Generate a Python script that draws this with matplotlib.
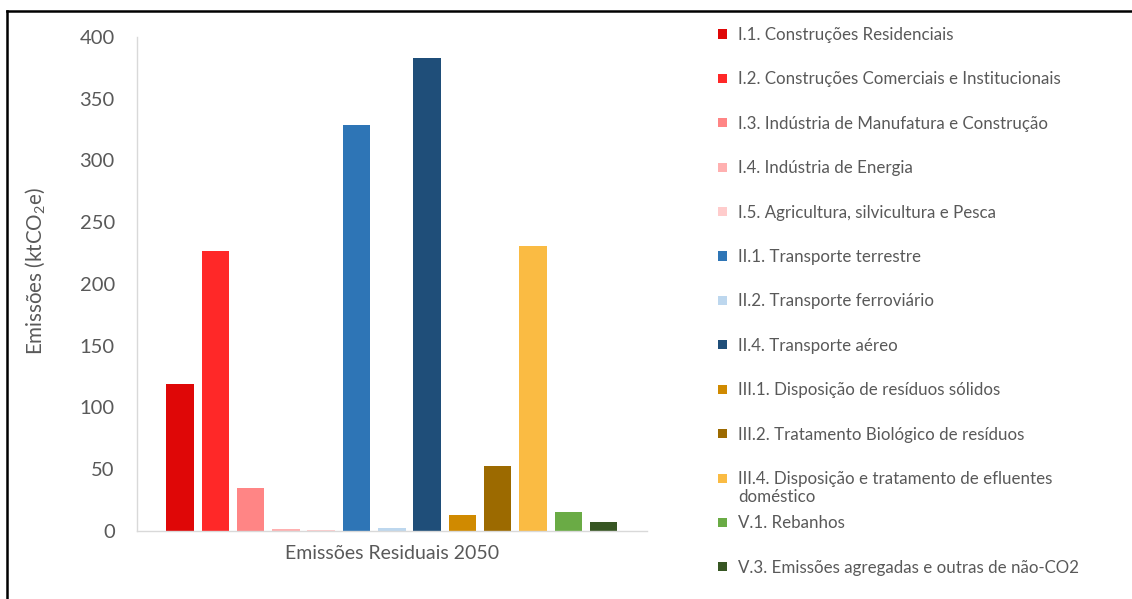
import matplotlib
matplotlib.use("Agg")
import matplotlib.pyplot as plt
from matplotlib.patches import Rectangle
from matplotlib.lines import Line2D

plt.rcParams['font.family'] = ['Lato', 'DejaVu Sans']
plt.rcParams['mathtext.default'] = 'regular'

# data
categories = [
    "I.1. Construções Residenciais",
    "I.2. Construções Comerciais e Institucionais",
    "I.3. Indústria de Manufatura e Construção",
    "I.4. Indústria de Energia",
    "I.5. Agricultura, silvicultura e Pesca",
    "II.1. Transporte terrestre",
    "II.2. Transporte ferroviário",
    "II.4. Transporte aéreo",
    "III.1. Disposição de resíduos sólidos",
    "III.2. Tratamento Biológico de resíduos",
    "III.4. Disposição e tratamento de efluentes\ndoméstico",
    "V.1. Rebanhos",
    "V.3. Emissões agregadas e outras de não-CO2",
]
values = [119, 227, 35, 1.5, 1, 329, 2.5, 383, 13, 52.5, 231, 15, 7.5]
colors = ["#DF0707", "#FF2828", "#FF8585", "#FFB0B0", "#FFCCCC",
          "#2E75B6", "#BDD7EE", "#1F4E79", "#D08A00", "#9C6A00",
          "#FABB43", "#6AAB45", "#375623"]
yticks = [0, 50, 100, 150, 200, 250, 300, 350, 400]
group_label = "Emissões Residuais 2050"

W, H = 1132, 599
text_color = "#595959"
axis_color = "#D9D9D9"

fig = plt.figure(figsize=(W / 100, H / 100), dpi=100)
ax = fig.add_axes([137 / W, 1 - 531 / H, 510 / W, 494 / H])

x = list(range(len(values)))
ax.bar(x, values, width=0.78, color=colors, zorder=2)

ax.set_ylim(0, 400)
ax.set_xlim(-1.22, len(values) - 1 + 1.23)
ax.set_yticks(yticks)
ax.set_xticks([(len(values) - 1) / 2])
ax.set_xticklabels([group_label])
ax.tick_params(axis='both', length=0, colors=text_color, labelsize=14.5)
ax.tick_params(axis='y', pad=16)
ax.tick_params(axis='x', pad=10)
for lab in ax.get_xticklabels():
    lab.set_fontsize(14)

for s in ['top', 'right']:
    ax.spines[s].set_visible(False)
for s in ['left', 'bottom']:
    ax.spines[s].set_color(axis_color)
    ax.spines[s].set_linewidth(1)

fig.text(35 / W, 1 - 271 / H, "Emissões (ktCO$_2$e)", rotation=90,
         ha='center', va='center', color=text_color, fontsize=14.8)

# legend on the right, fixed slots like the original
y0, step = 34, 44.4
for i, (lab, c) in enumerate(zip(categories, colors)):
    yc = y0 + step * i
    fig.add_artist(Rectangle((718 / W, 1 - (yc + 4.5) / H), 9 / W, 9 / H,
                             transform=fig.transFigure, facecolor=c,
                             edgecolor='none'))
    fig.text(738 / W, 1 - (yc - 7) / H, lab, ha='left', va='top',
             color=text_color, fontsize=12.2, linespacing=1.15)

# frame lines visible at the top and left of the original picture
fig.add_artist(Line2D([7 / W, 1], [1 - 11 / H, 1 - 11 / H],
                      transform=fig.transFigure, color='black', lw=1.8))
fig.add_artist(Line2D([7 / W, 7 / W], [0, 1 - 11 / H],
                      transform=fig.transFigure, color='black', lw=1.8))

fig.savefig("out.png", dpi=100)
